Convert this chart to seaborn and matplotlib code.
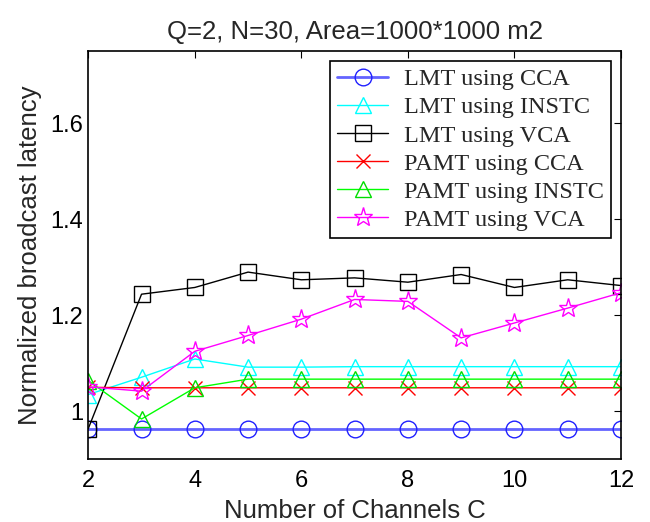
import numpy as np
import pandas as pd
import matplotlib
matplotlib.use("Agg")
import matplotlib.pyplot as plt
import seaborn as sns

channels = [2, 3, 4, 5, 6, 7, 8, 9, 10, 11, 12]
lmt_cca = [0.964, 0.964, 0.964, 0.964, 0.964, 0.964, 0.964, 0.964, 0.964, 0.964, 0.964]
lmt_instc = [1.035, 1.071, 1.109, 1.092, 1.092, 1.093, 1.093, 1.093, 1.093, 1.093, 1.093]
lmt_vca = [0.964, 1.244, 1.258, 1.290, 1.274, 1.278, 1.269, 1.285, 1.258, 1.274, 1.262]
pamt_cca = [1.050, 1.049, 1.049, 1.049, 1.049, 1.049, 1.049, 1.049, 1.049, 1.049, 1.049]
pamt_instc = [1.064, 0.984, 1.049, 1.067, 1.067, 1.067, 1.067, 1.067, 1.067, 1.067, 1.067]
pamt_vca = [1.051, 1.042, 1.125, 1.158, 1.192, 1.233, 1.229, 1.153, 1.184, 1.215, 1.247]

labels = ["LMT using CCA", "LMT using INSTC", "LMT using VCA",
          "PAMT using CCA", "PAMT using INSTC", "PAMT using VCA"]
series = [lmt_cca, lmt_instc, lmt_vca, pamt_cca, pamt_instc, pamt_vca]
colors = ["#6464ff", "#00ffff", "#000000", "#ff0000", "#00ff00", "#ff00ff"]
medges = ["#2020ff", "#00ffff", "#000000", "#ff0000", "#00dd00", "#ff00ff"]
markers = ["o", "^", "s", "x", "^", "*"]
lws = [2.0, 1.0, 1.0, 1.0, 1.0, 1.0]
msizes = [12, 11, 12, 10, 11, 14]

sns.set_theme(style="white")
plt.rcParams['font.family'] = ['Liberation Sans', 'DejaVu Sans']

fig = plt.figure(figsize=(6.5, 5.22), dpi=100)
ax = fig.add_axes([0.1358, 0.1201, 0.8195, 0.7816])

for lab, vals, c, me, m, lw, ms in zip(labels, series, colors, medges, markers, lws, msizes):
    df = pd.DataFrame({"C": channels, "v": vals})
    sns.lineplot(data=df, x="C", y="v", ax=ax, color=c, lw=lw, marker=m,
                 markersize=ms, markerfacecolor="none", markeredgecolor=me,
                 markeredgewidth=1.0, label=lab)

ax.set_xlim(2, 12)
ax.set_ylim(0.9, 1.75)
ax.set_xticks([2, 4, 6, 8, 10, 12])
ax.set_yticks([1.0, 1.2, 1.4, 1.6])
ax.set_yticklabels(["1", "1.2", "1.4", "1.6"])
ax.tick_params(direction="in", top=True, right=True, length=5, width=0.8,
               labelsize=17, colors="black")
ax.tick_params(axis="x", pad=8)
ax.tick_params(axis="y", pad=3.5)
for s in ax.spines.values():
    s.set_color("black")
    s.set_linewidth(1.2)
ax.set_xlabel("Number of Channels C", fontsize=18.5, va="baseline")
ax.xaxis.set_label_coords(0.5, -0.144)
ax.set_ylabel("Normalized broadcast latency", fontsize=18.5)
ax.yaxis.set_label_coords(-0.087, 0.5)
ax.set_title("Q=2, N=30, Area=1000*1000 m2", fontsize=18.5, pad=9)

leg = ax.legend(loc="upper right", bbox_to_anchor=(1.0, 1.0),
                prop={"family": "Liberation Serif", "size": 17.5},
                frameon=True, fancybox=False, framealpha=1, edgecolor="black",
                handlelength=2.1, labelspacing=0.25, borderpad=0.3,
                handletextpad=0.65, borderaxespad=0.4)
leg.get_frame().set_linewidth(1.2)

fig.savefig("out.png", dpi=100)
